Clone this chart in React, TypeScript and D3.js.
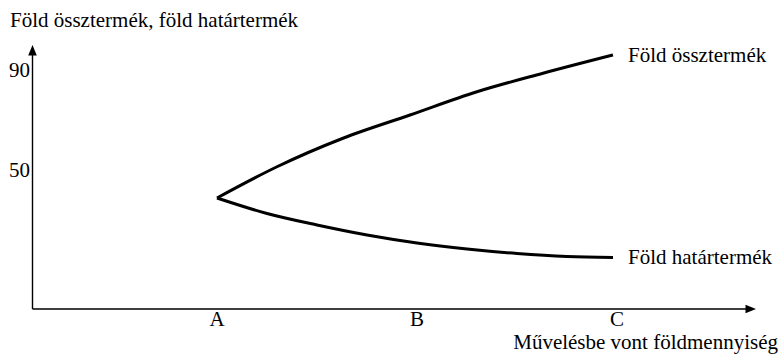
import React from "react";
import { scaleLinear, line, curveMonotoneX } from "d3";

// x positions: A = 1, B = 2, C = 3
const categories = ["A", "B", "C"];
const catValues = [1, 2, 3];
const yTicks = [50, 90];

const osszXs = [1.0, 1.3, 1.63, 1.965, 2.3, 2.63, 2.98];
const osszVals = [38.8, 51.3, 62.7, 72.0, 81.3, 88.7, 96.0];

const hatarXs = [1.0, 1.25, 1.5, 1.75, 2.0, 2.25, 2.5, 2.75, 2.98];
const hatarVals = [38.8, 32.6, 28.0, 24.0, 20.8, 18.4, 16.6, 15.4, 15.0];

const seriesNames = ["Föld össztermék", "Föld határtermék"];
const yTitle = "Föld össztermék, föld határtermék";
const xTitle = "Művelésbe vont földmennyiség";

const W = 780;
const H = 356;
const FONT = "'Liberation Serif', 'Times New Roman', Times, serif";

export default function App() {
  const x = scaleLinear().domain([1, 3]).range([217, 617]);
  const y = scaleLinear().domain([50, 90]).range([170, 70]);

  const axisX = 32.5;
  const axisY = 309;

  const lineGen = line<[number, number]>()
    .x(d => x(d[0]))
    .y(d => y(d[1]))
    .curve(curveMonotoneX);

  const series = [
    osszXs.map((v, i) => [v, osszVals[i]] as [number, number]),
    hatarXs.map((v, i) => [v, hatarVals[i]] as [number, number]),
  ];

  const txt = { fontFamily: FONT, fontSize: "21px" };

  return (
    <svg
      width={W}
      height={H}
      style={{ position: "absolute", left: 0, top: 0, background: "#fff" }}
    >
      <text x={10} y={27} style={txt} fill="#000">{yTitle}</text>

      {/* y axis with arrow */}
      <line x1={axisX} y1={axisY} x2={axisX} y2={52} stroke="#000" strokeWidth={1.4} />
      <path d={`M${axisX},45 L${axisX - 4.3},55.5 L${axisX + 4.3},55.5 Z`} fill="#000" />

      {/* x axis with arrow */}
      <line x1={axisX} y1={axisY} x2={748} y2={axisY} stroke="#000" strokeWidth={1.4} />
      <path d={`M756,${axisY} L745.5,${axisY - 4.3} L745.5,${axisY + 4.3} Z`} fill="#000" />

      {yTicks.map(t => (
        <text key={t} x={30} y={y(t) + 7} style={txt} textAnchor="end" fill="#000">{t}</text>
      ))}

      {categories.map((c, i) => (
        <text key={c} x={x(catValues[i])} y={325.5} style={txt} textAnchor="middle" fill="#000">{c}</text>
      ))}

      <text x={778} y={349} style={txt} textAnchor="end" fill="#000">{xTitle}</text>

      {series.map((s, i) => (
        <path key={i} d={lineGen(s) || ""} fill="none" stroke="#000" strokeWidth={3} strokeLinejoin="miter" />
      ))}

      {series.map((s, i) => {
        const last = s[s.length - 1];
        return (
          <text key={i} x={x(last[0]) + 15} y={y(last[1]) + 6.5} style={txt} fill="#000">
            {seriesNames[i]}
          </text>
        );
      })}
    </svg>
  );
}
